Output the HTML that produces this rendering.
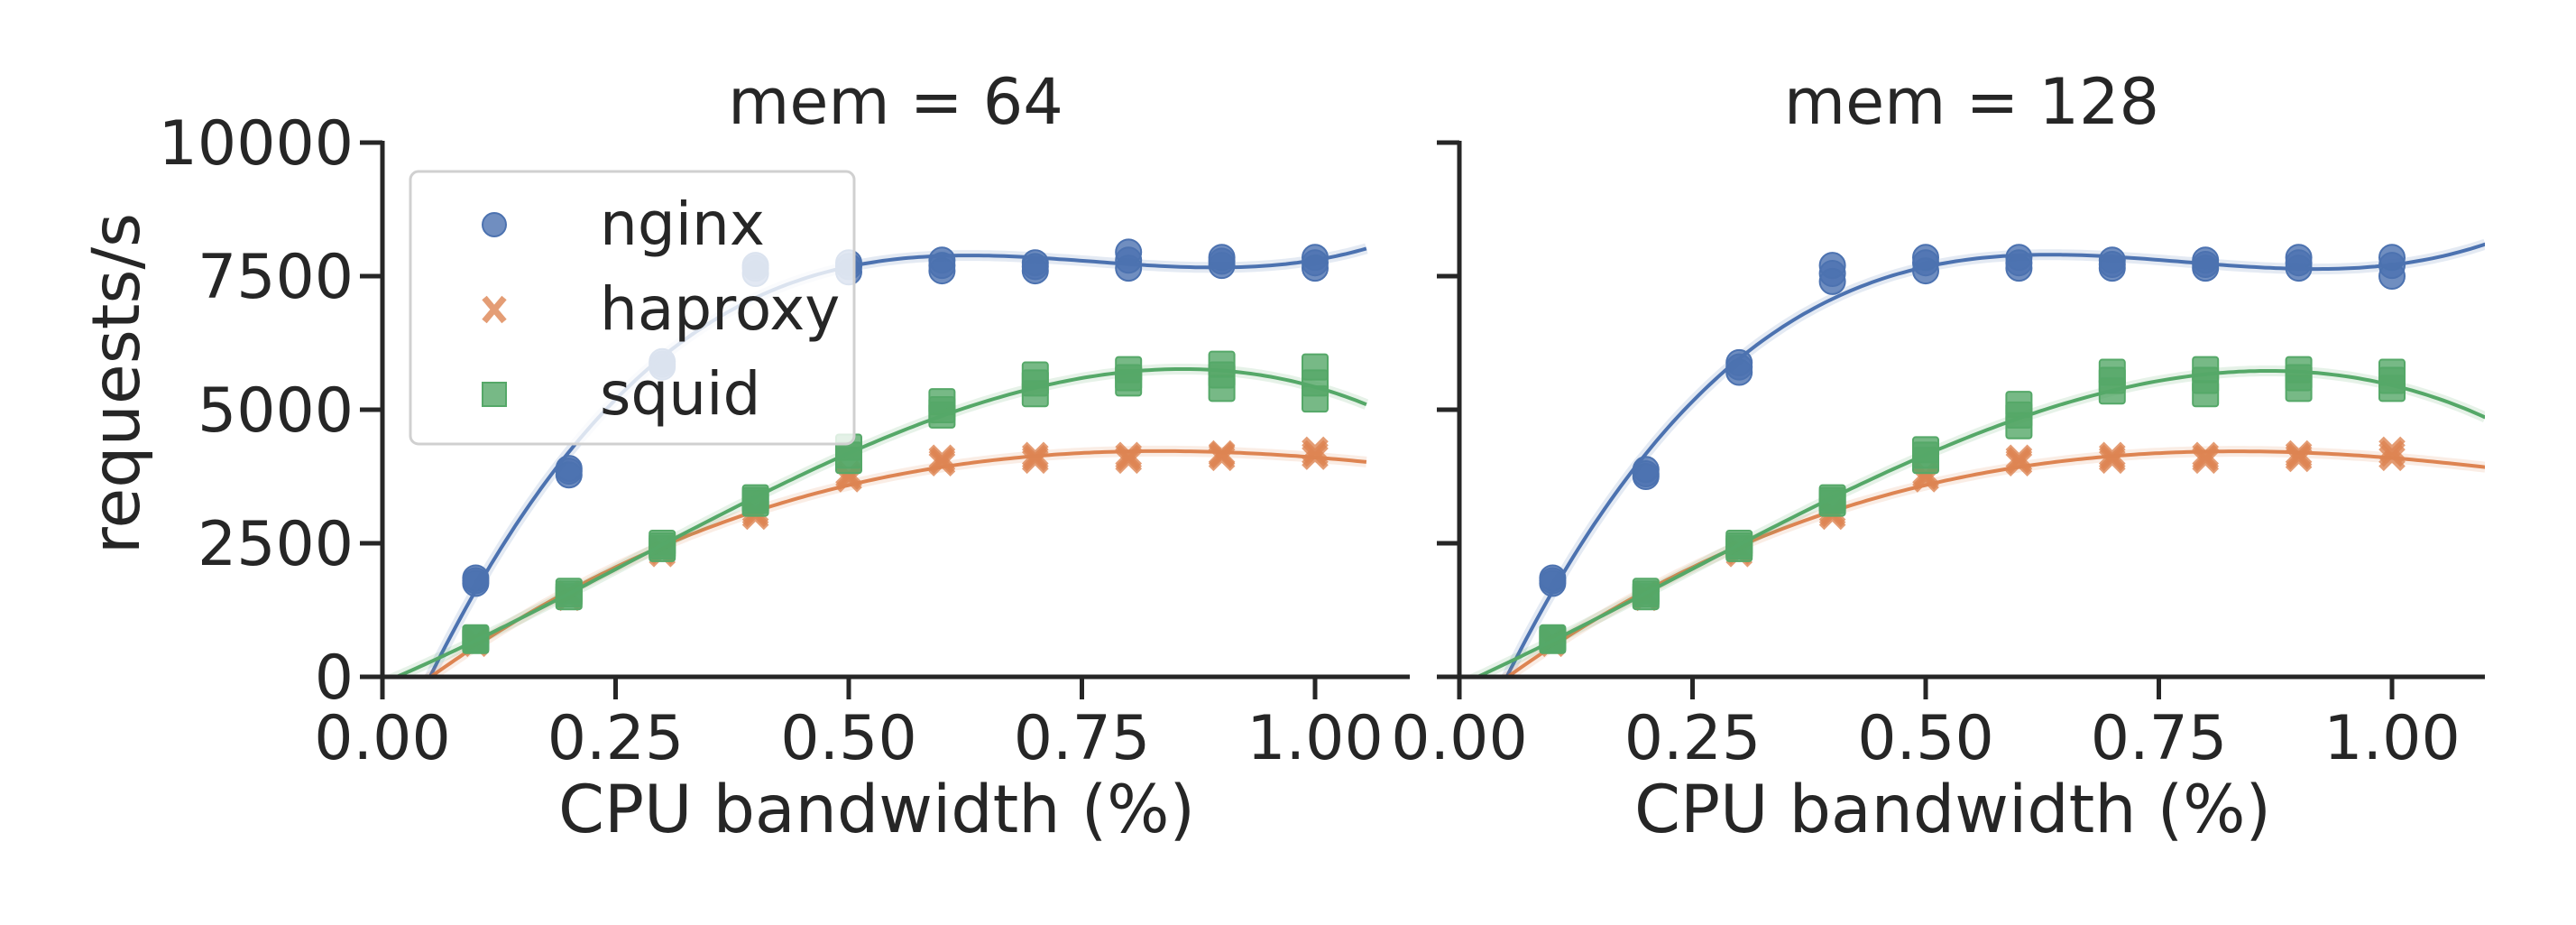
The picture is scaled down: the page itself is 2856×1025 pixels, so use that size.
<!DOCTYPE html>
<html><head><meta charset="utf-8"><style>
body{margin:0;background:#fff}
svg text{font-family:"DejaVu Sans","Liberation Sans",sans-serif;fill:#262626}
</style></head><body>
<svg id="chart" width="2856" height="1020" xmlns="http://www.w3.org/2000/svg"></svg>
<script>
const xValues = [0.1,0.2,0.3,0.4,0.5,0.6,0.7,0.8,0.9,1.0];
const panelTitles = ["mem = 64","mem = 128"];
const seriesNames = ["nginx","haproxy","squid"];
const xTickLabels = ["0.00","0.25","0.50","0.75","1.00"];
const xTickValues = [0,0.25,0.5,0.75,1.0];
const yTickValues = [0,2500,5000,7500,10000];
// each x: three repetitions [low, mid, high]
const nginx64 = [[1750,1800,1850],[3780,3850,3900],[5800,5850,5900],[7550,7650,7700],[7580,7680,7750],[7600,7700,7800],[7600,7680,7750],[7650,7800,7950],[7700,7780,7850],[7650,7750,7850]];
const haproxy64 = [[620,660,700],[1480,1520,1560],[2300,2350,2400],[3000,3050,3100],[3700,3750,3800],[4000,4050,4100],[4050,4100,4150],[4050,4100,4150],[4100,4150,4180],[4120,4180,4250]];
const squid64 = [[680,700,730],[1500,1550,1600],[2400,2450,2500],[3250,3300,3350],[4050,4150,4300],[4900,5000,5150],[5300,5500,5650],[5500,5600,5750],[5400,5650,5850],[5200,5500,5800]];
const nginx128 = [[1750,1800,1850],[3750,3800,3880],[5700,5800,5880],[7400,7550,7700],[7600,7750,7850],[7650,7750,7850],[7650,7720,7800],[7650,7720,7800],[7650,7750,7850],[7500,7700,7850]];
const haproxy128 = [[620,660,700],[1480,1520,1560],[2300,2350,2400],[3000,3050,3100],[3700,3750,3800],[4000,4050,4100],[4050,4100,4150],[4050,4100,4150],[4080,4130,4180],[4100,4180,4250]];
const squid128 = [[680,700,730],[1500,1550,1600],[2400,2450,2500],[3250,3300,3350],[4050,4150,4250],[4700,4900,5100],[5350,5550,5700],[5300,5550,5750],[5400,5600,5750],[5400,5550,5700]];

const NS="http://www.w3.org/2000/svg";
const svg=document.getElementById('chart');
const colors=["#4C72B0","#DD8452","#55A868"];
const panels=[{x0:399,zero:424,end:1563,data:[nginx64,haproxy64,squid64],fitEnd:1.055},
              {x0:1593,zero:1618,end:2755,data:[nginx128,haproxy128,squid128],fitEnd:1.1}];
const Y0=750, Y1=158, PXU=1034;
function yS(v){return Y0-(v/10000)*(Y0-Y1);}
function mk(t,a,p){const e=document.createElementNS(NS,t);for(const k in a)e.setAttribute(k,a[k]);(p||svg).appendChild(e);return e;}
function fit3(xs,ys){
  const n=4,A=[...Array(n)].map(()=>Array(n+1).fill(0));
  xs.forEach((x,i)=>{for(let r=0;r<n;r++){for(let c=0;c<n;c++)A[r][c]+=Math.pow(x,r+c);A[r][n]+=ys[i]*Math.pow(x,r);}});
  for(let i=0;i<n;i++){let m=i;for(let k=i+1;k<n;k++)if(Math.abs(A[k][i])>Math.abs(A[m][i]))m=k;[A[i],A[m]]=[A[m],A[i]];
    for(let k=0;k<n;k++)if(k!==i){const f=A[k][i]/A[i][i];for(let j=i;j<=n;j++)A[k][j]-=f*A[i][j];}}
  return A.map((r,i)=>r[n]/r[i]);
}
panels.forEach((P,pi)=>{
  const xS=v=>P.zero+v*PXU;
  const g=mk('g',{});
  
  
  const cp=mk('clipPath',{id:'clip'+pi},g);mk('rect',{x:P.x0,y:Y1-20,width:P.end-P.x0,height:Y0-Y1+20},cp);
  const plot=mk('g',{'clip-path':'url(#clip'+pi+')'},g);
  P.data.forEach((ser,si)=>{
    const xs=[],ys=[];
    ser.forEach((reps,i)=>reps.forEach(v=>{xs.push(xValues[i]);ys.push(v);}));
    const c=fit3(xs,ys);
    xs.forEach((x,i)=>{
      const cx=xS(x),cy=yS(ys[i]);let m;
      if(si===0)m=mk('circle',{cx,cy,r:14,fill:colors[0],'fill-opacity':0.8,stroke:colors[0],'stroke-width':2},plot);
      else if(si===1)m=mk('path',{d:`M${cx-12},${cy-12}L${cx+12},${cy+12}M${cx+12},${cy-12}L${cx-12},${cy+12}`,stroke:colors[1],'stroke-width':8,'stroke-opacity':0.8},plot);
      else m=mk('rect',{x:cx-14,y:cy-14,width:28,height:28,rx:3,fill:colors[2],'fill-opacity':0.8,stroke:colors[2],'stroke-width':2},plot);
      
      
    });
    let d='';
    for(let k=0;k<=200;k++){const x=-0.0242+(P.fitEnd+0.0242)*k/200;const y=c[0]+c[1]*x+c[2]*x*x+c[3]*x*x*x;d+=(k?'L':'M')+xS(x).toFixed(1)+','+yS(y).toFixed(1);}
    const band=mk('path',{d,fill:'none',stroke:colors[si],'stroke-opacity':0.15,'stroke-width':12},plot);
    
    
    const ln=mk('path',{d,fill:'none',stroke:colors[si],'stroke-width':4},plot);
    
    
  });
  const xa=mk('line',{x1:P.x0,y1:Y0,x2:P.end,y2:Y0,stroke:'#262626','stroke-width':5},g);
  
  const ya=mk('line',{x1:P.zero,y1:Y0,x2:P.zero,y2:Y1-2,stroke:'#262626','stroke-width':5},g);
  
  xTickValues.forEach((v,i)=>{
    mk('line',{x1:xS(v),y1:Y0,x2:xS(v),y2:Y0+25,stroke:'#262626','stroke-width':5},g);
    const t=mk('text',{x:xS(v),y:841,'font-size':68,'text-anchor':'middle'},g);t.textContent=xTickLabels[i];
    
  });
  yTickValues.forEach(v=>{
    mk('line',{x1:P.zero-25,y1:yS(v),x2:P.zero,y2:yS(v),stroke:'#262626','stroke-width':5},g);
    if(pi===0){const t=mk('text',{x:392,y:yS(v)+24,'font-size':68,'text-anchor':'end'},g);t.textContent=String(v);
      }
  });
  const tt=mk('text',{x:(P.x0+P.end)/2+12,y:137,'font-size':70,'text-anchor':'middle'},g);tt.textContent=panelTitles[pi];
  
  const xl=mk('text',{x:(P.x0+P.end)/2-9,y:922,'font-size':73,'text-anchor':'middle'},g);xl.textContent='CPU bandwidth (%)';
  
});
const yl=mk('text',{x:0,y:0,'font-size':73,'text-anchor':'middle',transform:'translate(154,425) rotate(-90)'});
yl.textContent='requests/s';


const lg=mk('g',{});


mk('rect',{x:455,y:190,width:492,height:302,rx:9,fill:'#fff','fill-opacity':0.8,stroke:'#d0d0d0','stroke-width':3},lg);
const ly=[249,343,437];
seriesNames.forEach((n,si)=>{
  const cx=548,cy=ly[si];
  if(si===0)mk('circle',{cx,cy,r:13,fill:colors[0],'fill-opacity':0.8,stroke:colors[0],'stroke-width':2},lg);
  else if(si===1)mk('path',{d:`M${cx-11},${cy-13}L${cx+11},${cy+13}M${cx+11},${cy-13}L${cx-11},${cy+13}`,stroke:colors[1],'stroke-width':7,'stroke-opacity':0.8},lg);
  else mk('rect',{x:cx-13,y:cy-13,width:26,height:26,fill:colors[2],'fill-opacity':0.8,stroke:colors[2],'stroke-width':2},lg);
  const t=mk('text',{x:665,y:cy+22,'font-size':66},lg);t.textContent=n;
  
  
});
</script>
</body></html>
